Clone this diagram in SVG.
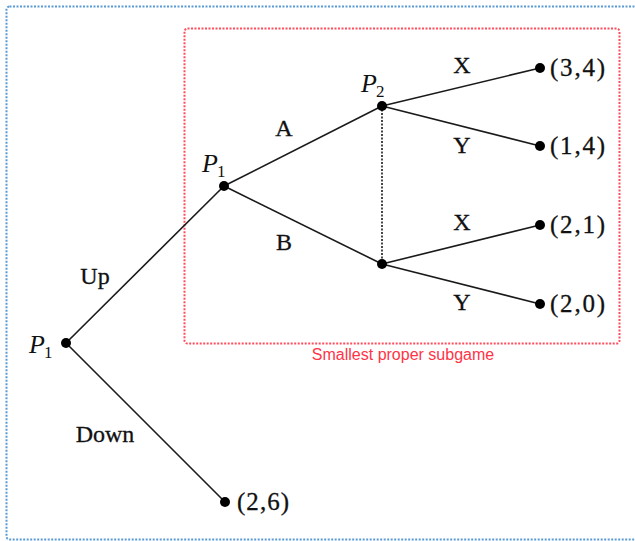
<svg xmlns="http://www.w3.org/2000/svg" width="635" height="541" viewBox="0 0 635 541">
<style>
.edge{stroke:#1a1a1a;stroke-width:1.6;fill:none}
.info{stroke:#1a1a1a;stroke-width:1.6;stroke-dasharray:2 1.5;fill:none}
.dot{fill:#000}
.lab{font-family:"Liberation Serif",serif;font-size:24px;fill:#111;stroke:#111;stroke-width:0.3}
.pay{font-family:"Liberation Serif",serif;font-size:25px;fill:#111;stroke:#111;stroke-width:0.3}
.pl{font-family:"Liberation Serif",serif;font-style:italic;font-size:26px;fill:#111}
.sub{font-family:"Liberation Serif",serif;font-size:17px;fill:#111}
</style>
<rect x="6.5" y="6.5" width="640" height="533" rx="3" fill="none" stroke="#5b9bd5" stroke-width="2" stroke-dasharray="2 1.5"/>
<g id="subgame">
<rect x="184.5" y="28.5" width="435" height="315" rx="3" fill="none" stroke="#ff4d5e" stroke-width="2" stroke-dasharray="2 1.5"/>
<text x="403" y="360" text-anchor="middle" font-family="Liberation Sans,sans-serif" font-size="16" fill="#ff3347">Smallest proper subgame</text>
</g>
<g id="connectors">
<line class="edge" x1="66" y1="343" x2="224" y2="186"/>
<line class="edge" x1="66" y1="343" x2="225" y2="502"/>
<line class="edge" x1="224" y1="186" x2="382" y2="106"/>
<line class="edge" x1="224" y1="186" x2="382" y2="264"/>
<line class="edge" x1="382" y1="106" x2="540" y2="68"/>
<line class="edge" x1="382" y1="106" x2="540" y2="146"/>
<line class="edge" x1="382" y1="264" x2="540" y2="225"/>
<line class="edge" x1="382" y1="264" x2="540" y2="304"/>
<line class="info" x1="382" y1="106" x2="382" y2="264"/>
<text class="lab" x="95" y="284" text-anchor="middle">Up</text>
<text class="lab" x="105" y="442" text-anchor="middle">Down</text>
<text class="lab" x="284" y="136" text-anchor="middle">A</text>
<text class="lab" x="284" y="250" text-anchor="middle">B</text>
<text class="lab" x="462" y="73" text-anchor="middle">X</text>
<text class="lab" x="462" y="153" text-anchor="middle">Y</text>
<text class="lab" x="462" y="230" text-anchor="middle">X</text>
<text class="lab" x="462" y="310" text-anchor="middle">Y</text>
</g>
<g id="root">
<circle class="dot" cx="66" cy="343" r="5"/>
<text class="pl" x="29" y="353">P</text><text class="sub" x="44" y="358">1</text>
</g>
<g id="p1">
<circle class="dot" cx="224" cy="186" r="5"/>
<text class="pl" x="202" y="172">P</text><text class="sub" x="217" y="177">1</text>
</g>
<g id="p2a">
<circle class="dot" cx="382" cy="106" r="5"/>
<text class="pl" x="361" y="92">P</text><text class="sub" x="376" y="97">2</text>
</g>
<g id="p2b">
<circle class="dot" cx="382" cy="264" r="5"/>
</g>
<g id="t34"><circle class="dot" cx="540" cy="68" r="5"/><text class="pay" x="550" y="76" textLength="55">(3,4)</text></g>
<g id="t14"><circle class="dot" cx="540" cy="146" r="5"/><text class="pay" x="550" y="154" textLength="55">(1,4)</text></g>
<g id="t21"><circle class="dot" cx="540" cy="225" r="5"/><text class="pay" x="550" y="233" textLength="55">(2,1)</text></g>
<g id="t20"><circle class="dot" cx="540" cy="304" r="5"/><text class="pay" x="550" y="312" textLength="55">(2,0)</text></g>
<g id="t26"><circle class="dot" cx="225" cy="502" r="5"/><text class="pay" x="237" y="510" textLength="52">(2,6)</text></g>
</svg>
